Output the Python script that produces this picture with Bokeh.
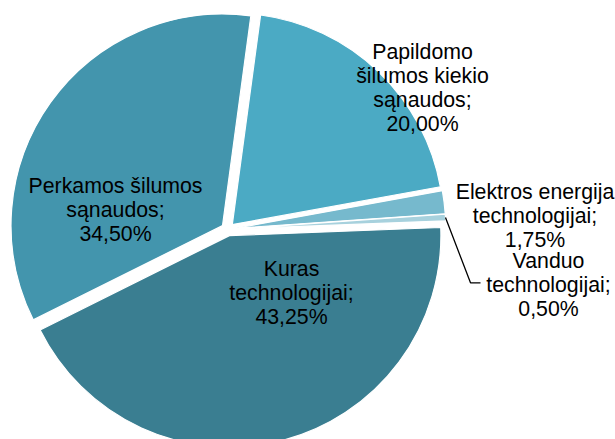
import math
from bokeh.plotting import figure
from bokeh.models import Range1d, ColumnDataSource
from bokeh.core.properties import value
from bokeh.embed import file_html
from bokeh.resources import INLINE

# ---- data ----
categories = [
    "Papildomo\nšilumos kiekio\nsąnaudos",
    "Elektros energija\ntechnologijai",
    "Vanduo\ntechnologijai",
    "Kuras\ntechnologijai",
    "Perkamos šilumos\nsąnaudos",
]
shares = [20.00, 1.75, 0.50, 43.25, 34.50]
colors = ["#4BAAC4", "#76B9CD", "#A7D1DD", "#3A7E91", "#4395AD"]

# ---- layout (page pixel coordinates, y downwards) ----
W, H = 615, 439
def dx(xi):
    return xi
def dy(yi):
    return H - yi

CX, CY = 227.3, 228.8     # pie centre
R = 211.5
EXPLODE = 6.5
START = 7.7               # first slice angle, degrees clockwise from 12 o'clock
label_pos = [(422, 51.7), (534.5, 191.0), (548, 260.7), (291, 268.3), (115, 185.7)]
LINE_STEP = 24

p = figure(width=W, height=H, output_backend="svg", toolbar_location=None,
           x_range=Range1d(0, W), y_range=Range1d(0, H),
           x_axis_location=None, y_axis_location=None, min_border=0)
p.outline_line_color = None
p.grid.visible = False
p.background_fill_color = "white"

total = sum(shares)
xs, ys, sa, ea = [], [], [], []
vertices = []
acc = START
for s in shares:
    span = s / total * 360.0
    t0, t1 = acc, acc + span
    mid = math.radians((t0 + t1) / 2)
    vx = CX + EXPLODE * math.sin(mid)
    vy = CY - EXPLODE * math.cos(mid)
    vertices.append((vx, vy, mid))
    xs.append(dx(vx)); ys.append(dy(vy))
    sa.append(math.radians(90 - t0)); ea.append(math.radians(90 - t1))
    acc = t1

src = ColumnDataSource(dict(x=xs, y=ys, start=sa, end=ea, color=colors))
p.wedge(x="x", y="y", radius=R, start_angle="start", end_angle="end",
        direction="clock", fill_color="color",
        line_color="white", line_width=1.2, source=src)

# leader line for Vanduo slice
vx, vy, mid = vertices[2]
ax = vx + R * math.sin(mid)
ay = vy - R * math.cos(mid)
p.line([dx(ax), dx(470), dx(480)], [dy(ay), dy(282.3), dy(282.3)],
       line_color="black", line_width=1.3)

# labels
tx, ty, tt = [], [], []
for name, s, (lx, ly) in zip(categories, shares, label_pos):
    txt = f"{name};\n{s:.2f}%".replace(".", ",")
    for i, line in enumerate(txt.split("\n")):
        tx.append(dx(lx)); ty.append(dy(ly + i * LINE_STEP)); tt.append(line)
p.text(x=tx, y=ty, text=tt, text_font=value("Liberation Sans"),
       text_font_size="21.3px", text_align="center", text_baseline="alphabetic",
       text_color="black")

open("out.html", "w").write(file_html(p, INLINE))
